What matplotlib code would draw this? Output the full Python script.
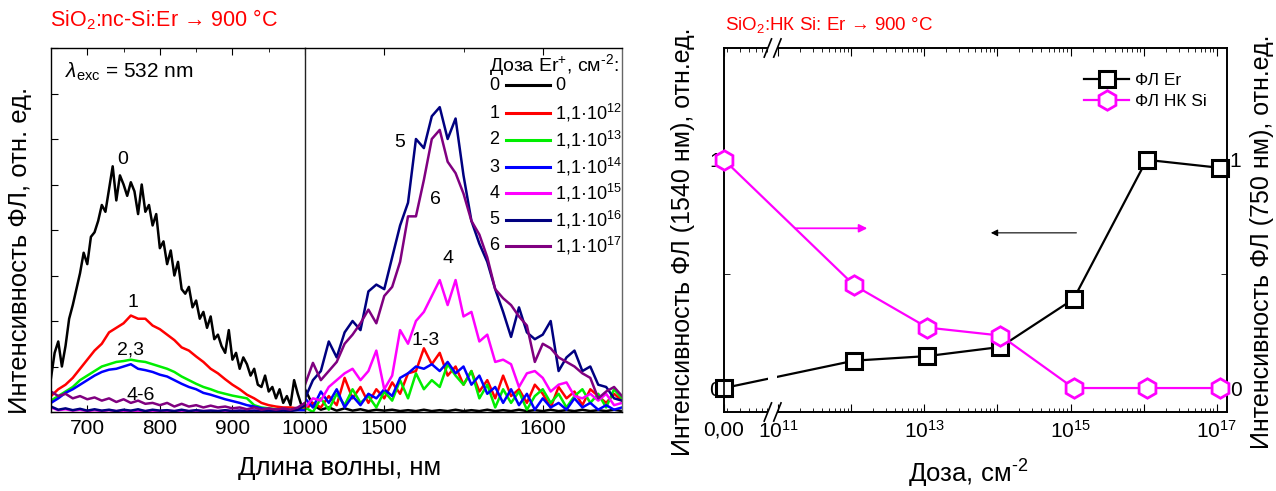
# PL spectra of SiO2:nc-Si:Er (left, broken wavelength axis) and
# PL intensity vs Er dose (right, broken dose axis, twin y).

import numpy as np
import matplotlib
matplotlib.use('Agg')
import matplotlib.pyplot as plt
import matplotlib.transforms as mtransforms

plt.rcParams['font.family'] = ['Liberation Sans', 'DejaVu Sans']
plt.rcParams['mathtext.fontset'] = 'custom'
plt.rcParams['mathtext.rm'] = 'Liberation Sans'
plt.rcParams['mathtext.it'] = 'Liberation Sans:italic'
plt.rcParams['mathtext.bf'] = 'Liberation Sans:bold'

HY = '\u2010'  # plain hyphen for "cm-2" exponents (mathtext turns '-' into a minus)

# ---------------- left panel data ----------------
WL_VIS_FINE = list(range(650, 1001, 5))     # nm, curve 0
WL_VIS = list(range(650, 1001, 10))         # nm, curves 1-6
WL_IR = list(range(1450, 1651, 5))          # nm, all curves

VIS_0 = [0.75, 1.30, 1.55, 1.00, 1.45, 2.05, 2.35, 2.70, 3.05, 3.50,
         3.25, 3.85, 3.95, 4.20, 4.55, 4.40, 4.90, 5.40, 4.65, 5.20,
         5.00, 4.75, 5.05, 4.85, 4.35, 5.00, 4.40, 4.55, 4.10, 4.35,
         3.60, 3.75, 3.25, 3.55, 3.00, 3.30, 2.70, 2.60, 2.75, 2.30,
         2.45, 2.05, 2.20, 1.85, 2.10, 1.60, 1.70, 1.45, 1.30, 1.80,
         1.15, 1.30, 0.95, 1.20, 1.05, 0.80, 0.95, 0.60, 0.55, 0.80,
         0.45, 0.55, 0.30, 0.50, 0.20, 0.35, 0.15, 0.70, 0.40, 0.15,
         0.10]
VIS_1 = [0.35, 0.50, 0.60, 0.75, 0.95, 1.15, 1.35, 1.50, 1.75, 1.85,
         1.95, 2.12, 2.05, 2.05, 1.90, 1.82, 1.70, 1.58, 1.42, 1.35,
         1.22, 1.10, 0.95, 0.85, 0.72, 0.60, 0.50, 0.38, 0.30, 0.20,
         0.15, 0.12, 0.10, 0.10, 0.08, 0.10]
VIS_2 = [0.25, 0.35, 0.45, 0.55, 0.70, 0.80, 0.90, 1.00, 1.05, 1.10,
         1.12, 1.15, 1.12, 1.10, 1.05, 1.00, 0.95, 0.88, 0.78, 0.70,
         0.62, 0.55, 0.50, 0.44, 0.40, 0.36, 0.33, 0.30, 0.15, 0.10,
         0.08, 0.06, 0.05, 0.05, 0.05, 0.05]
VIS_3 = [0.20, 0.30, 0.42, 0.50, 0.60, 0.70, 0.80, 0.88, 0.93, 0.95,
         1.00, 1.05, 0.95, 0.92, 0.88, 0.82, 0.78, 0.70, 0.62, 0.55,
         0.50, 0.42, 0.38, 0.33, 0.28, 0.24, 0.20, 0.15, 0.12, 0.08,
         0.06, 0.05, 0.05, 0.04, 0.04, 0.04]
VIS_4 = [0.10, 0.04, 0.06, 0.03, 0.05, 0.02, 0.04, 0.02, 0.04, 0.02,
         0.03, 0.02, 0.03, 0.02, 0.03, 0.02, 0.03, 0.02, 0.03, 0.02,
         0.03, 0.02, 0.03, 0.02, 0.03, 0.02, 0.03, 0.02, 0.03, 0.02,
         0.03, 0.02, 0.03, 0.02, 0.08, 0.20]
VIS_5 = [0.12, 0.05, 0.08, 0.04, 0.07, 0.03, 0.06, 0.03, 0.05, 0.02,
         0.05, 0.03, 0.06, 0.02, 0.05, 0.03, 0.04, 0.02, 0.05, 0.02,
         0.04, 0.02, 0.03, 0.02, 0.04, 0.02, 0.03, 0.02, 0.03, 0.02,
         0.03, 0.02, 0.03, 0.02, 0.05, 0.15]
VIS_6 = [0.45, 0.35, 0.40, 0.30, 0.35, 0.28, 0.32, 0.25, 0.30, 0.22,
         0.28, 0.20, 0.25, 0.18, 0.20, 0.15, 0.20, 0.12, 0.18, 0.12,
         0.15, 0.10, 0.14, 0.10, 0.12, 0.08, 0.10, 0.06, 0.10, 0.05,
         0.08, 0.05, 0.08, 0.05, 0.10, 0.20]

IR_0 = [0.50, 0.15, 0.05, 0.10, 0.03, 0.08, 0.03, 0.06, 0.02, 0.05,
        0.03, 0.05, 0.02, 0.04, 0.02, 0.05, 0.02, 0.04, 0.02, 0.05,
        0.02, 0.04, 0.02, 0.05, 0.02, 0.04, 0.02, 0.05, 0.02, 0.04,
        0.02, 0.05, 0.02, 0.04, 0.02, 0.05, 0.02, 0.04, 0.02, 0.05,
        0.02]
IR_1 = [0.05, 0.20, 0.10, 0.35, 0.15, 0.75, 0.30, 0.55, 0.20, 0.50,
        0.30, 0.65, 0.40, 0.85, 0.90, 1.40, 1.05, 1.30, 0.80, 1.00,
        0.60, 0.90, 0.45, 0.70, 0.30, 0.80, 0.35, 0.50, 0.20, 0.60,
        0.40, 0.10, 0.55, 0.30, 0.45, 0.15, 0.50, 0.35, 0.20, 0.40,
        0.25]
IR_2 = [0.10, 0.00, 0.30, 0.05, 0.40, 0.15, 0.50, 0.20, 0.35, 0.10,
        0.45, 0.25, 0.70, 0.30, 0.85, 0.50, 0.70, 0.55, 1.05, 0.80,
        0.60, 0.90, 0.30, 0.60, 0.10, 0.50, 0.20, 0.45, 0.05, 0.35,
        0.50, 0.20, 0.40, 0.10, 0.35, 0.50, 0.20, 0.40, 0.10, 0.50,
        0.30]
IR_3 = [0.30, 0.10, 0.45, 0.20, 0.50, 0.10, 0.35, 0.15, 0.40, 0.30,
        0.50, 0.35, 0.75, 0.85, 1.00, 0.95, 1.05, 0.90, 1.10, 0.85,
        1.00, 0.60, 0.80, 0.40, 0.55, 0.20, 0.50, 0.15, 0.40, 0.05,
        0.30, 0.10, 0.20, 0.05, 0.30, 0.10, 0.20, 0.05, 0.15, 0.05,
        0.10]
IR_4 = [0.10, 0.30, 0.25, 0.55, 0.70, 0.85, 0.95, 0.70, 0.90, 1.35,
        0.50, 0.80, 1.80, 1.50, 2.00, 2.20, 2.55, 2.90, 2.35, 2.90,
        2.10, 2.20, 1.55, 1.70, 1.10, 1.15, 1.05, 0.55, 0.85, 0.90,
        0.75, 0.45, 0.60, 0.65, 0.35, 0.30, 0.40, 0.25, 0.40, 0.15,
        0.20]
IR_5 = [0.30, 0.70, 0.90, 1.55, 1.20, 1.75, 2.00, 1.80, 2.65, 2.80,
        2.70, 3.40, 4.10, 4.60, 6.00, 5.80, 6.50, 6.70, 6.00, 6.45,
        5.20, 4.20, 3.70, 3.30, 2.70, 2.20, 1.65, 2.30, 1.75, 1.60,
        1.70, 2.00, 0.90, 1.20, 1.35, 0.90, 1.00, 0.60, 0.55, 0.30,
        0.25]
IR_6 = [0.60, 1.08, 0.70, 0.90, 1.10, 1.50, 1.70, 1.95, 2.25, 1.95,
        2.55, 2.75, 3.30, 4.30, 4.30, 5.10, 6.00, 6.20, 5.50, 5.25,
        4.80, 4.20, 3.90, 3.40, 2.70, 2.50, 2.35, 2.10, 1.90, 1.10,
        1.50, 1.40, 1.20, 1.10, 1.00, 0.85, 0.75, 0.30, 0.45, 0.55,
        0.35]

CURVE_IDS = ['0', '1', '2', '3', '4', '5', '6']
CURVE_DOSES = ['0', '1,1·10$^{12}$', '1,1·10$^{13}$', '1,1·10$^{14}$',
               '1,1·10$^{15}$', '1,1·10$^{16}$', '1,1·10$^{17}$']
CURVE_COLORS = ['#000000', '#ff0000', '#00ee00', '#0000ff',
                '#ff00ff', '#000080', '#800080']

# ---------------- right panel data ----------------
DOSE = [0, 1.1e12, 1.1e13, 1.1e14, 1.1e15, 1.1e16, 1.1e17]
PL_ER = [0.0, 0.12, 0.14, 0.18, 0.39, 1.0, 0.965]
PL_SI = [1.0, 0.45, 0.265, 0.23, 0.0, 0.0, 0.0]

ZERO_POS = 10 ** 10.26          # where dose "0" sits on the broken log axis
BREAK_LO, BREAK_HI = 10 ** 10.86, 10 ** 10.99

W, H = 1276, 491
fig = plt.figure(figsize=(W / 100, H / 100), dpi=100)

bottom, height = 1 - 412 / H, (412 - 48) / H
ax_v = fig.add_axes([51 / W, bottom, (305 - 51) / W, height])
ax_ir = fig.add_axes([305 / W, bottom, (622 - 305) / W, height])

vis_series = [VIS_0, VIS_1, VIS_2, VIS_3, VIS_4, VIS_5, VIS_6]
ir_series = [IR_0, IR_1, IR_2, IR_3, IR_4, IR_5, IR_6]
for i, (v, r) in enumerate(zip(vis_series, ir_series)):
    wl = WL_VIS_FINE if i == 0 else WL_VIS
    ax_v.plot(wl, v, color=CURVE_COLORS[i], lw=1.8)
    ax_ir.plot(WL_IR, r, color=CURVE_COLORS[i], lw=1.8)

for ax in (ax_v, ax_ir):
    ax.set_ylim(0, 8)
    ax.tick_params(which='both', direction='in', top=True, labelsize=15, pad=5)
    ax.tick_params(which='major', length=5)
    ax.tick_params(which='minor', length=3)
    for s in ax.spines.values():
        s.set_linewidth(1.0)

ax_v.set_xlim(650, 1000)
ax_v.set_xticks([700, 800, 900, 1000])
ax_v.set_xticks([750, 850, 950], minor=True)
ax_v.set_yticks(range(0, 9))
ax_v.set_yticklabels([])
ax_v.spines['right'].set_visible(False)

ax_ir.set_xlim(1450, 1650)
ax_ir.set_xticks([1500, 1600])
ax_ir.set_xticks([1550], minor=True)
ax_ir.set_yticks([])
ax_ir.spines['left'].set_color('#222222')
ax_ir.spines['right'].set_color('#666666')

# curve labels
lab_kw = dict(fontsize=14, ha='center', va='center')
ax_v.text(749, 5.55, '0', **lab_kw)
ax_v.text(763, 2.4, '1', **lab_kw)
ax_v.text(760, 1.36, '2,3', **lab_kw)
ax_v.text(773, 0.37, '4-6', **lab_kw)
ax_ir.text(1510, 5.93, '5', **lab_kw)
ax_ir.text(1532, 4.66, '6', **lab_kw)
ax_ir.text(1540, 3.38, '4', **lab_kw)
ax_ir.text(1526, 1.58, '1-3', **lab_kw)

ax_v.text(0.055, 0.934, r'$\lambda_{\rm exc}$ = 532 nm', transform=ax_v.transAxes,
          fontsize=15, va='center', ha='left')

# hand-made legend with ids on the left and doses on the right
ax_ir.text(0.99, 0.953, 'Доза Er$^{+}$, см$^{' + HY + '2}$:', transform=ax_ir.transAxes,
           fontsize=14, ha='right', va='center')
row_y = [85, 113, 140, 167, 193, 220, 246]
for cid, dose, col, yp in zip(CURVE_IDS, CURVE_DOSES, CURVE_COLORS, row_y):
    ya = (412 - yp) / 364
    ax_ir.text(0.598, ya, cid, transform=ax_ir.transAxes, fontsize=13,
               ha='center', va='center')
    ax_ir.plot([0.634, 0.773], [ya, ya], transform=ax_ir.transAxes,
               color=col, lw=2.2, clip_on=False)
    ax_ir.text(0.789, ya, dose, transform=ax_ir.transAxes, fontsize=13,
               ha='left', va='center')

fig.text(50 / W, 1 - 20 / H, 'SiO$_2$:nc-Si:Er → 900 °C', color='#ff0000',
         fontsize=15.5, ha='left', va='center')
fig.text(340 / W, 1 - 468 / H, 'Длина волны, нм', fontsize=18.5,
         ha='center', va='center')
fig.text(20 / W, 1 - 250 / H, 'Интенсивность ФЛ, отн. ед.', fontsize=18.5,
         rotation=90, ha='center', va='center')

# ---------------- right panel ----------------
ax_d = fig.add_axes([724 / W, bottom, (1227 - 724) / W, height])
ax_s = ax_d.twinx()
dose_x = [ZERO_POS if d == 0 else d for d in DOSE]

ax_d.set_xscale('log')
ax_d.set_xlim(ZERO_POS, 10 ** 17.14)
for ax in (ax_d, ax_s):
    ax.set_ylim(-0.105, 1.49)
    for s in ax.spines.values():
        s.set_linewidth(1.2)

er_line, = ax_d.plot(dose_x, PL_ER, color='black', lw=1.6, marker='s', ms=11,
                     mfc='white', mec='black', mew=2.2, clip_on=False,
                     label='ФЛ Er', zorder=3)
si_line, = ax_s.plot(dose_x, PL_SI, color='#ff00ff', lw=1.6, marker='h', ms=14,
                     mfc='white', mec='#ff00ff', mew=2.0, clip_on=False,
                     label='ФЛ НК Si', zorder=3)

major = [ZERO_POS] + [10.0 ** e for e in range(11, 18)]
major_lab = ['0,00', '$10^{11}$', '', '$10^{13}$', '', '$10^{15}$', '', '$10^{17}$']
ax_d.set_xticks(major, major_lab)
minor = [k * 10.0 ** e for e in range(10, 17) for k in range(2, 10)
         if ZERO_POS < k * 10.0 ** e < 10 ** 17.14]
ax_d.set_xticks(minor, minor=True)
ax_d.xaxis.set_minor_formatter(plt.NullFormatter())
ax_d.tick_params(axis='x', which='both', direction='in', top=True, labelsize=15, pad=6)
ax_d.tick_params(axis='x', which='major', length=6)
ax_d.tick_params(axis='x', which='minor', length=3)

for ax, side in ((ax_d, 'left'), (ax_s, 'right')):
    ax.set_yticks([0, 1], ['0', '1'])
    ax.set_yticks([0.5], minor=True)
    ax.tick_params(axis='y', which='both', direction='in', labelsize=15, pad=2)
    ax.tick_params(axis='y', which='major', length=6)
    ax.tick_params(axis='y', which='minor', length=4)
ax_d.tick_params(axis='y', right=False)

# axis break: white band over lines and spines, plus slashes
ax_s.axvspan(BREAK_LO, BREAK_HI, ymin=-0.012, ymax=1.012, color='white',
             zorder=2.8, clip_on=False, lw=0)
brk = mtransforms.blended_transform_factory(ax_s.transData, ax_s.transAxes)
for c in (np.log10(BREAK_LO), np.log10(BREAK_HI)):
    for y0 in (0.0, 1.0):
        ax_s.plot([10 ** (c - 0.05), 10 ** (c + 0.05)], [y0 - 0.025, y0 + 0.025],
                  transform=brk, color='black', lw=1.2, clip_on=False, zorder=4)

ax_s.annotate('', xy=(10 ** 12.22, 0.70), xytext=(10 ** 11.23, 0.70),
              arrowprops=dict(arrowstyle='-|>', color='#ff00ff', lw=1.3,
                              mutation_scale=12, shrinkA=0, shrinkB=0))
ax_d.annotate('', xy=(10 ** 13.91, 0.68), xytext=(10 ** 15.08, 0.68),
              arrowprops=dict(arrowstyle='-|>', color='black', lw=0.8,
                              mutation_scale=10, shrinkA=0, shrinkB=0))

ax_s.legend([er_line, si_line], ['ФЛ Er', 'ФЛ НК Si'], loc='upper right',
            bbox_to_anchor=(0.99, 0.975), frameon=False, fontsize=12.5,
            handlelength=2.6, handletextpad=0.3, labelspacing=0.35)

fig.text(725 / W, 1 - 25 / H, 'SiO$_2$:НК Si: Er → 900 °C', color='#ff0000',
         fontsize=13.5, ha='left', va='center')
fig.text(968 / W, 1 - 474 / H, 'Доза, см$^{' + HY + '2}$', fontsize=18.5,
         ha='center', va='center')
fig.text(683 / W, 1 - 242 / H, 'Интенсивность ФЛ (1540 нм), отн.ед.',
         fontsize=18, rotation=90, ha='center', va='center')
fig.text(1262 / W, 1 - 242 / H, 'Интенсивность ФЛ (750 нм), отн.ед.',
         fontsize=18, rotation=90, ha='center', va='center')

fig.savefig('out.png', dpi=100)
